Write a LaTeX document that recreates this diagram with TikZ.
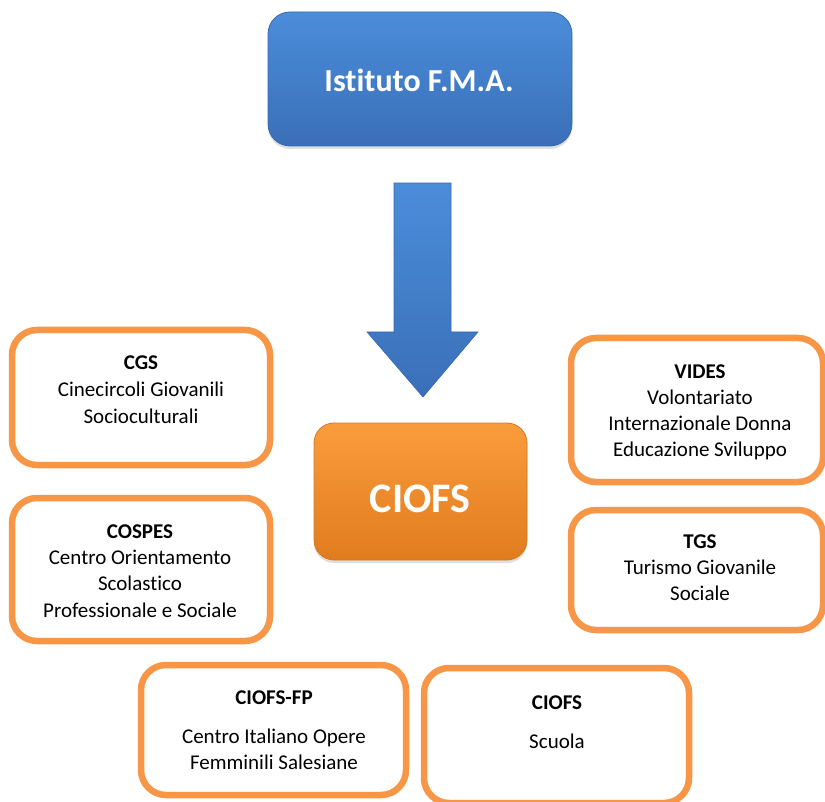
\documentclass[tikz,border=0pt]{standalone}
\usepackage{fontspec}
\setmainfont{Carlito}[Ligatures=NoCommon]
\usetikzlibrary{shadows}
\definecolor{obord}{HTML}{F79646}
\definecolor{btop}{HTML}{4B8DDA}
\definecolor{bbot}{HTML}{3A6FB8}
\definecolor{bline}{HTML}{3868AA}
\definecolor{otop}{HTML}{FB9C3C}
\definecolor{obot}{HTML}{E07C1E}
\definecolor{oline}{HTML}{D9781E}
\tikzset{
  obox/.style={draw=obord, line width=6.5pt, rounded corners=25pt, fill=white, inner sep=0pt},
  bluebox/.style={draw=bline, line width=0.8pt, rounded corners=22pt, top color=btop, bottom color=bbot, inner sep=0pt,
     drop shadow={opacity=0.25, shadow xshift=0pt, shadow yshift=-3pt}},
  orbox/.style={draw=oline, line width=0.8pt, rounded corners=20pt, top color=otop, bottom color=obot, inner sep=0pt,
     drop shadow={opacity=0.25, shadow xshift=0pt, shadow yshift=-3pt}},
  txt/.style={anchor=base, inner sep=0pt, font=\fontsize{21}{27}\selectfont, text=black},
  btxt/.style={txt, font=\fontsize{21}{27}\selectfont\bfseries},
}
\begin{document}
\begin{tikzpicture}[x=1pt, y=-1pt]
\useasboundingbox (0,0) rectangle (825,802);
% top blue box
\node[bluebox, minimum width=304pt, minimum height=134pt] (fma) at (420,79) {};
\node[anchor=base, inner sep=0pt, text=white, font=\fontsize{32}{38}\selectfont\bfseries] (fmaT) at (419,92) {Istituto F.M.A.};
% arrow
\coordinate (a1) at (394,183);
\coordinate (a2) at (451,183);
\coordinate (a3) at (451,332);
\coordinate (a4) at (478,332);
\coordinate (a5) at (423,397);
\coordinate (a6) at (367,332);
\coordinate (a7) at (394,332);
\shade[top color=btop, bottom color=bbot, draw=bline, line width=0.6pt]
  (a1) -- (a2) -- (a3) -- (a4) -- (a5) -- (a6) -- (a7) -- cycle;
\fill[white, opacity=0.15] (a1) -- (a2) -- ([xshift=-6pt,yshift=6pt]a2) -- ([xshift=6pt,yshift=6pt]a1) -- cycle;
% CIOFS central
\node[orbox, minimum width=213pt, minimum height=137pt] (ciofs) at (420.5,491.5) {};
\node[anchor=base, inner sep=0pt, text=white, font=\fontsize{42}{48}\selectfont\bfseries] (ciofsT) at (420,512) {CIOFS};
% CGS
\node[obox, minimum width=258pt, minimum height=135pt] (cgs) at (141,397.5) {};
\node[btxt] (cgs1) at (141,370) {CGS};
\node[txt] (cgs2) at (141,396) {Cinecircoli Giovanili};
\node[txt] (cgs3) at (141,423) {Socioculturali};
% VIDES
\node[obox, minimum width=252pt, minimum height=144pt] (vides) at (697,410) {};
\node[btxt] (vid1) at (700,378) {VIDES};
\node[txt] (vid2) at (700,404) {Volontariato};
\node[txt] (vid3) at (700,430) {Internazionale Donna};
\node[txt] (vid4) at (700,456) {Educazione Sviluppo};
% COSPES
\node[obox, minimum width=258pt, minimum height=143pt] (cospes) at (141,569.5) {};
\node[btxt] (cos1) at (140,538) {COSPES};
\node[txt] (cos2) at (140,564) {Centro Orientamento};
\node[txt] (cos3) at (140,590) {Scolastico};
\node[txt] (cos4) at (140,617) {Professionale e Sociale};
% TGS
\node[obox, minimum width=252pt, minimum height=120pt] (tgs) at (697,570) {};
\node[btxt] (tgs1) at (700,548) {TGS};
\node[txt] (tgs2) at (700,574) {Turismo Giovanile};
\node[txt] (tgs3) at (700,600) {Sociale};
% CIOFS-FP
\node[obox, minimum width=265pt, minimum height=130pt] (fp) at (273.5,730) {};
\node[btxt] (fp1) at (274,704) {CIOFS-FP};
\node[txt] (fp2) at (274,743) {Centro Italiano Opere};
\node[txt] (fp3) at (274,769) {Femminili Salesiane};
% CIOFS Scuola
\node[obox, minimum width=265pt, minimum height=135pt] (sc) at (556.5,735.5) {};
\node[btxt] (sc1) at (557,709) {CIOFS};
\node[txt] (sc2) at (557,748) {Scuola};
\end{tikzpicture}
\end{document}
